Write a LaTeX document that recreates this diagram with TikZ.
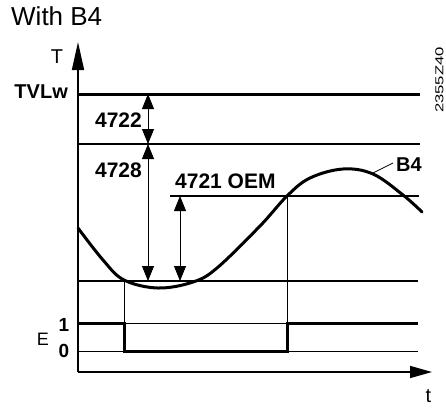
\documentclass[tikz,border=0pt]{standalone}
\usepackage{fontspec}
\setmainfont{Liberation Sans}
\usetikzlibrary{arrows.meta}
\newcommand{\fsz}[1]{\fontsize{#1}{#1}\selectfont}
\begin{document}
\begin{tikzpicture}[x=1pt,y=-1pt,
  axisline/.style={line width=1.6pt},
  thickline/.style={line width=3pt},
  midline/.style={line width=1.6pt},
  thinline/.style={line width=0.7pt},
  curveline/.style={line width=3pt, line cap=round},
  dimarrow/.style={line width=0.8pt, {Triangle[length=15pt,width=12pt]}-{Triangle[length=15pt,width=12pt]}},
  txt/.style={inner sep=0pt}
]
\fill[white] (0,0) rectangle (446,407);
\useasboundingbox (0,0) rectangle (446,407);

% axes
\coordinate (O) at (78,372);
\coordinate (Ytip) at (78,42);
\coordinate (Xtip) at (432,372);
\draw[axisline, -{Triangle[length=28pt,width=12pt]}] (O) -- (Ytip);
\draw[axisline, -{Triangle[length=22pt,width=12pt]}] (O) -- (Xtip);

% horizontal level lines
\coordinate (tvlA) at (78,94);   \coordinate (tvlB) at (420,94);
\coordinate (l2A) at (78,144);   \coordinate (l2B) at (420,144);
\coordinate (oemA) at (170,196); \coordinate (oemB) at (419,196);
\coordinate (minA) at (78,281);  \coordinate (minB) at (418,281);
\coordinate (e1A) at (78,323);   \coordinate (e1B) at (418,323);
\coordinate (e0A) at (78,351);   \coordinate (e0B) at (418,351);
\draw[thickline] (tvlA) -- (tvlB);
\draw[midline] (l2A) -- (l2B);
\draw[midline] (oemA) -- (oemB);
\draw[midline] (minA) -- (minB);
\draw[thinline] (e1A) -- (e1B);
\draw[thinline] (e0A) -- (e0B);

% vertical thin markers
\coordinate (v1top) at (124,281); \coordinate (v1bot) at (124,351);
\coordinate (v2top) at (287,196); \coordinate (v2bot) at (287,323);
\draw[thinline] (v1top) -- (v1bot);
\draw[thinline] (v2top) -- (v2bot);

% E signal
\draw[thickline] (e1A) -- (124,323) -- (v1bot) -- (287,351) -- (v2bot) -- (e1B);

% dimension arrows
\coordinate (d1a) at (148,94);  \coordinate (d1b) at (148,144);
\coordinate (d2a) at (148,144); \coordinate (d2b) at (148,281);
\coordinate (d3a) at (180,196); \coordinate (d3b) at (180,281);
\draw[dimarrow] (d1a) -- (d1b);
\draw[dimarrow] (d2a) -- (d2b);
\draw[dimarrow] (d3a) -- (d3b);

% curve B4
\draw[curveline] plot[smooth, tension=0.6] coordinates {(78,228) (103,260) (124,280) (158,288) (193,282) (217,268) (260,226) (287,196) (310,178) (343,169) (373,174) (403,195) (422,212)};
\coordinate (ldA) at (373,173); \coordinate (ldB) at (393,163);
\draw[line width=0.8pt] (ldA) -- (ldB);

% labels
\node[txt, anchor=base west] (title) at (11,25) {\fsz{26}With B4};
\node[txt, anchor=base] (Tlbl) at (57,63) {\fsz{20}T};
\node[txt, anchor=base east] (tvlw) at (68,98.5) {\fsz{20}\bfseries TVLw};
\node[txt, anchor=base east] (n4722) at (142,127) {\fsz{21}\bfseries 4722};
\node[txt, anchor=base east] (n4728) at (142,177) {\fsz{21}\bfseries 4728};
\node[txt, anchor=base west] (n4721) at (175,188) {\fsz{21}\bfseries 4721 OEM};
\node[txt, anchor=base west] (b4) at (396,171) {\fsz{20}\bfseries B4};
\node[txt, anchor=base] (Elbl) at (43,345) {\fsz{18}E};
\node[txt, anchor=base] (one) at (64,331) {\fsz{19}\bfseries 1};
\node[txt, anchor=base] (zero) at (64,357) {\fsz{19}\bfseries 0};
\node[txt, anchor=base] (tlbl) at (428.5,402) {\fsz{20}t};
\node[txt, rotate=90] (code) at (439.5,80) {\scalebox{1.45}[1]{\fsz{11.5}2355Z40}};
\end{tikzpicture}
\end{document}
